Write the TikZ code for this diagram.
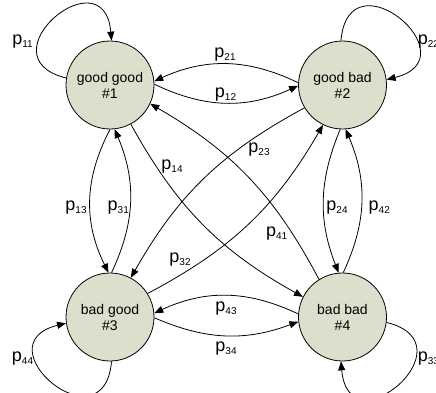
\documentclass[tikz,border=0pt]{standalone}
\usepackage{fontspec}
\setmainfont{Liberation Sans}
\usetikzlibrary{arrows.meta}
\definecolor{statefill}{RGB}{221,223,204}
% transition probability p_ij with a lowered small index
\newcommand{\trp}[1]{p\raisebox{-3pt}{\fontsize{10}{10}\selectfont #1}}

\begin{document}
\begin{tikzpicture}[x=1pt,y=1pt,
  state/.style={circle, draw=black, line width=0.8pt, fill=statefill,
    minimum size=88pt, inner sep=0pt, align=center,
    font=\fontsize{14}{16}\selectfont},
  trans/.style={draw=black, line width=0.8pt,
    -{Triangle[length=9pt,width=7pt]}},
  plabel/.style={anchor=base, inner sep=0pt, font=\fontsize{18}{18}\selectfont}]
\useasboundingbox (0,0) rectangle (436,392);

% states
\node[state] (n1) at (110,307)   {good good\\\#1};
\node[state] (n2) at (342.5,307) {good bad\\\#2};
\node[state] (n3) at (110,75)    {bad good\\\#3};
\node[state] (n4) at (342.5,75)  {bad bad\\\#4};

% self loops
\draw[trans] (n1.171) to[out=166,in=95,looseness=3.8] (n1.88);
\draw[trans] (n2.92)  to[out=85,in=14,looseness=3.8]  (n2.7);
\draw[trans] (n3.272) to[out=265,in=194,looseness=3.8] (n3.188);
\draw[trans] (n4.353) to[out=346,in=275,looseness=3.8] (n4.268);

% horizontal pairs
\draw[trans] (n1.1)   to[bend right=25] (n2.181);
\draw[trans] (n2.177) to[bend right=25] (n1.5);
\draw[trans] (n4.176) to[bend right=25] (n3.5);
\draw[trans] (n3.359) to[bend right=22] (n4.186);

% vertical pairs
\draw[trans] (n1.270) to[bend right=27] (n3.92);
\draw[trans] (n3.88)  to[bend right=24] (n1.276);
\draw[trans] (n2.267) to[bend right=22] (n4.95);
\draw[trans] (n4.89)  to[bend right=24] (n2.274);

% diagonals
\draw[trans] (n1.298) to[bend right=16] (n4.153);
\draw[trans] (n4.122) to[bend right=16] (n1.335);
\draw[trans] (n2.211) to[bend right=16] (n3.62);
\draw[trans] (n3.32)  to[bend right=16] (n2.244);

% labels
\node[plabel] (l11) at (22.5,348) {\trp{11}};
\node[plabel, anchor=base west] (l22) at (417.7,348) {\trp{22}};
\node[plabel] (l44) at (22.5,30.3) {\trp{44}};
\node[plabel, anchor=base west] (l33) at (417.7,30.3) {\trp{33}};
\node[plabel] (l21) at (225,334.2) {\trp{21}};
\node[plabel] (l12) at (225.5,294.2) {\trp{12}};
\node[plabel] (l43) at (226,80.8) {\trp{43}};
\node[plabel] (l34) at (226,40.8) {\trp{34}};
\node[plabel] (l13) at (76,181.5) {\trp{13}};
\node[plabel] (l31) at (118.3,181.5) {\trp{31}};
\node[plabel] (l24) at (337,181.5) {\trp{24}};
\node[plabel] (l42) at (379.3,181.5) {\trp{42}};
\node[plabel] (l14) at (172,222.5) {\trp{14}};
\node[plabel] (l41) at (276.7,155.8) {\trp{41}};
\node[plabel] (l23) at (259,239.2) {\trp{23}};
\node[plabel] (l32) at (180,129.2) {\trp{32}};
\end{tikzpicture}
\end{document}
